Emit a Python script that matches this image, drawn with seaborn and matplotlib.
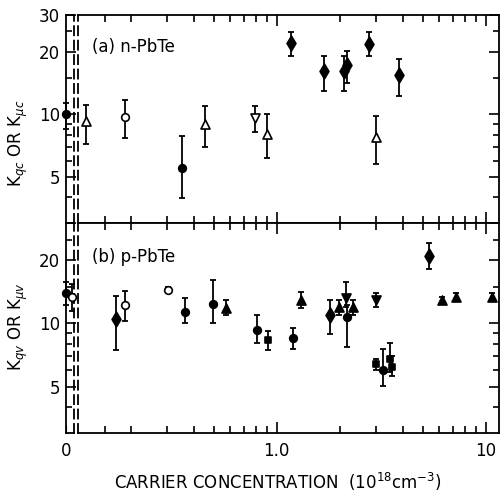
import numpy as np
import pandas as pd
import matplotlib
matplotlib.use("Agg")
import matplotlib.pyplot as plt
import seaborn as sns
from matplotlib.ticker import FixedLocator, NullFormatter, FixedFormatter

sns.set_style("ticks")
plt.rcParams['font.family'] = ['DejaVu Sans']
plt.rcParams['mathtext.fontset'] = 'dejavusans'
for key in ('text.color', 'axes.labelcolor', 'xtick.color', 'ytick.color', 'axes.edgecolor'):
    plt.rcParams[key] = 'black'

# ---------------- data ----------------
# panel (a) n-PbTe
a_x = [0.0, 0.122, 0.189, 0.351, 0.454, 0.787, 0.895, 1.167, 1.684, 2.107, 2.16, 2.765, 2.977, 3.85]
a_y = [10.0, 9.29, 9.74, 5.52, 9.02, 9.63, 8.03, 21.98, 16.1, 16.1, 17.3, 21.7, 7.79, 15.5]
a_hi = [11.35, 11.1, 11.66, 7.88, 10.95, 10.95, 10.07, 24.9, 19.1, 18.98, 20.2, 24.8, 9.81, 18.5]
a_lo = [8.48, 7.19, 7.68, 3.97, 7.0, 8.23, 6.17, 19.0, 12.9, 13.0, 14.15, 19.0, 5.81, 12.3]
a_mk = ['fo', 'o^', 'oo', 'fo', 'o^', 'ov', 'o^', 'fD', 'fD', 'fD', 'fD', 'fD', 'o^', 'fD']

# panel (b) p-PbTe
b_x = [0.0, 0.015, 0.170, 0.189, 0.303, 0.364, 0.497, 0.570, 0.802, 0.906, 1.20, 1.30, 1.80,
       1.99, 2.14, 2.18, 2.31, 2.99, 2.99, 3.21, 3.48, 3.55, 5.35, 6.15, 7.21, 10.76]
b_y = [14.0, 13.4, 10.45, 12.3, 14.5, 11.36, 12.36, 11.9, 9.36, 8.32, 8.57, 12.9, 10.95,
       12.0, 13.16, 10.75, 12.0, 12.9, 6.39, 6.03, 6.75, 6.2, 21.0, 12.9, 13.4, 13.4]
b_hi = [15.8, 15.5, 13.5, 14.25, 14.9, 13.16, 16.1, 12.9, 11.0, 9.19, 9.53, 14.06, 12.9,
        13.0, 15.8, 12.3, 13.0, 13.9, 6.81, 7.54, 8.1, 7.0, 24.1, 13.4, 13.9, 13.9]
b_lo = [12.2, 11.5, 7.5, 10.3, 14.1, 10.07, 10.07, 11.0, 8.08, 7.46, 7.6, 11.9, 8.96,
        10.95, 12.0, 7.73, 10.95, 12.0, 5.98, 5.04, 5.9, 5.6, 18.1, 12.4, 12.9, 12.9]
b_mk = ['fo', 'oo', 'fD', 'oo', 'oo', 'fo', 'fo', 'f^', 'fo', 'fs', 'fo', 'f^', 'fD',
        'f^', 'fv', 'fo', 'f^', 'fv', 'fs', 'fo', 'fs', 'fs', 'fD', 'f^', 'f^', 'f^']

x_major = [1.0, 10.0]
x_major_labels = ['1.0', '10']
x_minor = [0.15, 0.2, 0.3, 0.4, 0.5, 0.6, 0.7, 0.8, 0.9, 2, 3, 4, 5, 6, 7, 8, 9]
y_major = [5, 10, 20, 30]
y_minor = [4, 6, 7, 8, 9, 15, 25]

STYLE = {'fo': ('o', True, 5.5), 'oo': ('o', False, 5.5), 'o^': ('^', False, 6.5),
         'ov': ('v', False, 6.5), 'fD': ('d', True, 7.5), 'f^': ('^', True, 6.5),
         'fv': ('v', True, 6.5), 'fs': ('s', True, 5.0)}

W, H = 500.0, 494.0


def box(l, t, r, b):
    return [l / W, 1 - b / H, (r - l) / W, (b - t) / H]


fig = plt.figure(figsize=(5.0, 4.94), dpi=100)


def draw(ax, df, clip=True):
    for code, sub in df.groupby('mk'):
        m, filled, ms = STYLE[code]
        eb = ax.errorbar(sub['x'], sub['y'], yerr=[sub['y'] - sub['lo'], sub['hi'] - sub['y']],
                         fmt='none', ecolor='black', elinewidth=1.3, capsize=2.2, capthick=1.3,
                         zorder=2)
        if not clip:
            for art in eb.lines[1] + eb.lines[2]:
                art.set_clip_on(False)
        sns.scatterplot(data=sub, x='x', y='y', ax=ax, marker=m, s=ms ** 2,
                        color='black' if filled else 'white', edgecolor='black',
                        linewidth=1.2, zorder=3, legend=False, clip_on=clip)


panels = [
    (pd.DataFrame(dict(x=a_x, y=a_y, lo=a_lo, hi=a_hi, mk=a_mk)), 15.0, 223.3, False),
    (pd.DataFrame(dict(x=b_x, y=b_y, lo=b_lo, hi=b_hi, mk=b_mk)), 223.3, 433.3, True),
]

for df, top, bot, is_bottom in panels:
    axs = fig.add_axes(box(65.7, top, 74.0, bot))
    axm = fig.add_axes(box(78.0, top, 498.5, bot))

    draw(axs, df[df['x'] < 0.05], clip=False)
    draw(axm, df[df['x'] >= 0.05])

    for ax in (axs, axm):
        ax.set_yscale('log')
        ax.set_ylim(3, 30)
        ax.set_xlabel('')
        ax.set_ylabel('')
        for sp in ax.spines.values():
            sp.set_linewidth(1.3)
        ax.yaxis.set_major_locator(FixedLocator(y_major))
        ax.yaxis.set_minor_locator(FixedLocator(y_minor))
        ax.yaxis.set_minor_formatter(NullFormatter())

    # small (x = 0) axes
    axs.set_xlim(-0.001, 0.02)
    axs.spines['right'].set_linestyle((0, (5, 3)))
    axs.set_xticks([0.0])
    axs.set_xticks([], minor=True)
    axs.set_xticklabels(['0'] if is_bottom else [''])
    axs.tick_params(axis='x', which='both', direction='in', bottom=is_bottom, top=False,
                    labelsize=12, pad=6, length=6)
    ylabels = ['5', '10', '20', '30'] if not is_bottom else ['5', '10', '20', '']
    axs.yaxis.set_major_formatter(FixedFormatter(ylabels))
    axs.tick_params(axis='y', which='major', direction='in', left=True, right=False,
                    labelsize=12, length=7, width=1.2, pad=4)
    axs.tick_params(axis='y', which='minor', direction='in', left=True, right=False,
                    length=4, width=1.2)

    # main log axes
    axm.set_xscale('log')
    axm.set_xlim(0.112, 11.51)
    axm.spines['left'].set_linestyle((0, (5, 3)))
    axm.xaxis.set_major_locator(FixedLocator(x_major))
    axm.xaxis.set_minor_locator(FixedLocator(x_minor))
    axm.xaxis.set_minor_formatter(NullFormatter())
    if is_bottom:
        axm.xaxis.set_major_formatter(FixedFormatter(x_major_labels))
    else:
        axm.xaxis.set_major_formatter(NullFormatter())
    axm.tick_params(axis='x', which='major', direction='in', top=True, bottom=True,
                    labelsize=12, length=8, width=1.2, pad=6)
    axm.tick_params(axis='x', which='minor', direction='in', top=True, bottom=True,
                    length=5, width=1.2)
    axm.tick_params(axis='y', which='major', direction='in', left=False, right=True,
                    labelleft=False, length=7, width=1.2)
    axm.tick_params(axis='y', which='minor', direction='in', left=False, right=True,
                    labelleft=False, length=4, width=1.2)

fig.text(92 / W, 1 - 47 / H, '(a) n-PbTe', fontsize=12, va='center', ha='left')
fig.text(92 / W, 1 - 257 / H, '(b) p-PbTe', fontsize=12, va='center', ha='left')

fig.text(18 / W, 1 - 143 / H, r'K$_{qc}$ OR K$_{\mu c}$', fontsize=12, rotation=90,
         va='center', ha='center')
fig.text(18 / W, 1 - 327 / H, r'K$_{qv}$ OR K$_{\mu v}$', fontsize=12, rotation=90,
         va='center', ha='center')
fig.text(278 / W, 1 - 482 / H, r'CARRIER CONCENTRATION  (10$^{18}$cm$^{-3}$)',
         fontsize=12, va='center', ha='center')

fig.savefig('out.png', dpi=100)
